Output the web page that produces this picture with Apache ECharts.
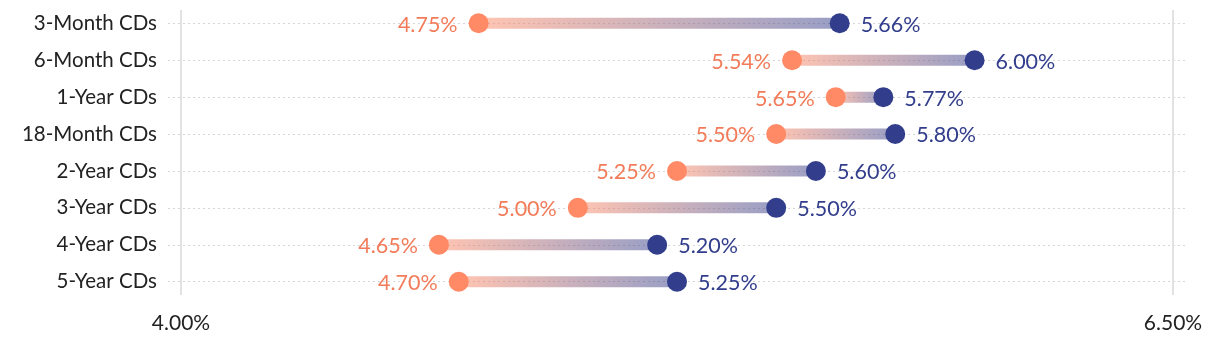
<!DOCTYPE html>
<html><head><meta charset="utf-8">
<script src="https://cdn.jsdelivr.net/npm/echarts@6/dist/echarts.min.js"></script>
<style>html,body{margin:0;padding:0;background:#fff}#c{width:1220px;height:346px}</style>
</head><body><div id="c"></div>
<script>
const categories = ['3-Month CDs','6-Month CDs','1-Year CDs','18-Month CDs','2-Year CDs','3-Year CDs','4-Year CDs','5-Year CDs'];
const lowValues = [4.75, 5.54, 5.65, 5.50, 5.25, 5.00, 4.65, 4.70];
const highValues = [5.66, 6.00, 5.77, 5.80, 5.60, 5.50, 5.20, 5.25];
const xTicks = [4.00, 6.50];

const FONT = 'Lato';
const ORANGE = '#ff8a65';
const ORANGE_TXT = '#f27c5a';
const BLUE = '#323e8c';

const chart = echarts.init(document.getElementById('c'), null, {renderer:'canvas'});
const rangeData = categories.map((c,i)=>[i, lowValues[i], highValues[i]]);

chart.setOption({
  animation:false,
  textStyle:{fontFamily:FONT},
  grid:[
    {left:181, right:47, top:23.3, bottom:64.3},   // data
    {left:168, right:34, top:23.3, bottom:64.3},   // dotted row lines
    {left:181, right:47, top:10, bottom:51}        // vertical lines + x labels
  ],
  xAxis:[
    {gridIndex:0, type:'value', min:xTicks[0], max:xTicks[1], interval:xTicks[1]-xTicks[0], axisLine:{show:false}, axisTick:{show:false}, axisLabel:{show:false}, splitLine:{show:false}},
    {gridIndex:1, type:'value', min:0, max:1, show:false},
    {gridIndex:2, type:'value', min:xTicks[0], max:xTicks[1], interval:xTicks[1]-xTicks[0],
      axisLine:{show:false}, axisTick:{show:false},
      axisLabel:{margin:18, color:'#222', fontSize:21, fontFamily:FONT, formatter:v=>v.toFixed(2)+'%'},
      splitLine:{show:true, lineStyle:{color:'#e2e2e2', width:2}}}
  ],
  yAxis:[
    {gridIndex:0, type:'category', data:categories, inverse:true, boundaryGap:false,
      axisLine:{show:false}, axisTick:{show:false}, splitLine:{show:false},
      axisLabel:{margin:24, color:'#222', fontSize:20.5, fontFamily:FONT, padding:[3,0,0,0]}},
    {gridIndex:1, type:'category', data:categories, inverse:true, boundaryGap:false,
      axisLine:{show:false}, axisTick:{show:false}, axisLabel:{show:false},
      splitLine:{show:true, lineStyle:{color:'#d6d6d6', width:1, type:[2,3]}}},
    {gridIndex:2, type:'value', show:false, min:0, max:1}
  ],
  series:[
    {
      type:'custom', xAxisIndex:0, yAxisIndex:0, data:rangeData, z:2,
      renderItem:(params, api)=>{
        const a = api.coord([api.value(1), api.value(0)]);
        const b = api.coord([api.value(2), api.value(0)]);
        const h = 11;
        return {type:'rect', shape:{x:a[0], y:a[1]-h/2, width:b[0]-a[0], height:h},
          style:{fill:new echarts.graphic.LinearGradient(0,0,1,0,[
            {offset:0,color:'rgba(255,138,101,0.5)'},{offset:1,color:'rgba(50,62,140,0.5)'}])}};
      },
      encode:{x:[1,2], y:0}
    },
    {
      type:'scatter', xAxisIndex:0, yAxisIndex:0, z:3, symbolSize:20,
      data:lowValues.map((v,i)=>[v,i]),
      itemStyle:{color:ORANGE, opacity:1},
      label:{show:true, position:'left', distance:11, offset:[0,1.5], color:ORANGE_TXT, fontSize:21.5, fontFamily:FONT,
        formatter:p=>p.value[0].toFixed(2)+'%'}
    },
    {
      type:'scatter', xAxisIndex:0, yAxisIndex:0, z:3, symbolSize:20,
      data:highValues.map((v,i)=>[v,i]),
      itemStyle:{color:BLUE, opacity:1},
      label:{show:true, position:'right', distance:11, offset:[0,1.5], color:BLUE, fontSize:21.5, fontFamily:FONT,
        formatter:p=>p.value[0].toFixed(2)+'%'}
    }
  ]
});
</script></body></html>
